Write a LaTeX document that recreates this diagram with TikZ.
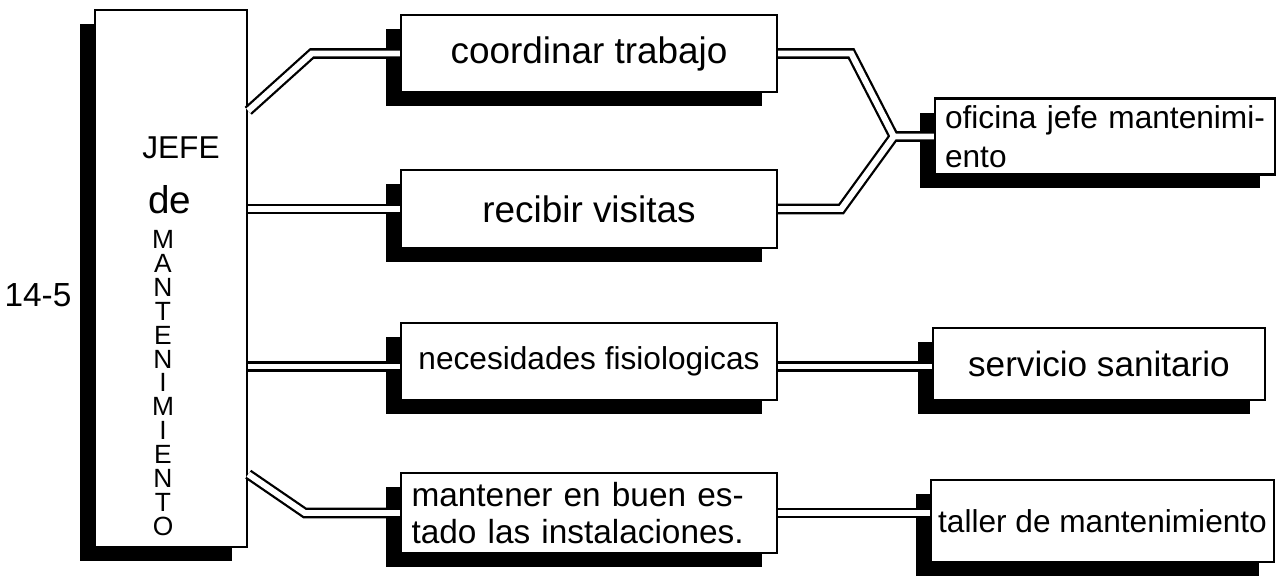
\documentclass[tikz,border=0pt]{standalone}
\usepackage{fontspec}
\setmainfont{Liberation Sans}
\usetikzlibrary{shadows}

\begin{document}
\begin{tikzpicture}[x=0.02cm, y=-0.02cm,
    caja/.style={draw, rectangle, fill=white, line width=1.4pt, inner sep=4pt,
      drop shadow={shadow xshift=-0.3cm, shadow yshift=-0.28cm, fill=black, opacity=1}},
    doble/.style={double, line width=1.3pt, double distance=3.4pt},
    letra/.style={font=\fontsize{18}{22}\selectfont}]
    \useasboundingbox (0,0) rectangle (1278,576);

    % Jefe
    \node[caja, minimum width=3.04cm, minimum height=10.74cm] (jefe) at (171,278.5) {};
    \node[font=\fontsize{18}{22}\selectfont] (jefe-titulo) at (181,148) {JEFE};
    \node[font=\fontsize{22}{26}\selectfont] (jefe-de) at (170,200) {de};
    \node[font=\fontsize{15}{13.6}\selectfont, align=center] (jefe-mant) at (163,383) {M\\A\\N\\T\\E\\N\\I\\M\\I\\E\\N\\T\\O};
    \node[font=\fontsize{19}{22}\selectfont] (pagina) at (38,295) {14-5};

    % Funciones
    \node[caja, font=\fontsize{21}{24}\selectfont, minimum width=7.52cm, minimum height=1.54cm] (coordinar) at (589,53.5) {coordinar trabajo};
    \node[caja, font=\fontsize{21}{24}\selectfont, minimum width=7.52cm, minimum height=1.56cm] (recibir) at (589,209) {recibir visitas};
    \node[caja, letra, minimum width=7.52cm, minimum height=1.54cm] (necesidades) at (589,361.5) {necesidades fisiologicas};
    \node[caja, font=\fontsize{19}{21}\selectfont, minimum width=7.52cm, minimum height=1.6cm, align=left, text width=7.1cm] (mantener) at (589,513) {mantener en buen es-\\tado las instalaciones.};

    % Espacios
    \node[caja, letra, minimum width=6.8cm, minimum height=1.46cm, align=left, text width=6.4cm] (oficina) at (1105,136.5) {oficina jefe mantenimi-\\ento};
    \node[caja, font=\fontsize{20}{24}\selectfont, minimum width=6.64cm, minimum height=1.44cm] (servicio) at (1099,364) {servicio sanitario};
    \node[caja, letra, minimum width=6.78cm, minimum height=1.64cm] (taller) at (1102.5,521) {taller de mantenimiento};

    % Conexiones
    \draw[doble] ([yshift=-2.04cm]jefe.north east) -- ([xshift=-1.76cm]coordinar.west) -- (coordinar.west);
    \draw[doble] (jefe.east |- recibir.west) -- (recibir.west);
    \draw[doble] ([yshift=-0.1cm]jefe.east |- necesidades.west) -- ([yshift=-0.1cm]necesidades.west);
    \draw[doble] ([yshift=1.48cm]jefe.south east) -- ([xshift=-1.9cm]mantener.west) -- (mantener.west);
    \coordinate (union) at ([xshift=-0.8cm]oficina.west);
    \draw[doble] (coordinar.east) -- ++(73,0) -- (union) -- (oficina.west)
        (recibir.east) -- ++(63,0) -- (union);
    \draw[doble] ([yshift=-0.1cm]necesidades.east) -- ([yshift=-0.1cm]necesidades.east -| servicio.west);
    \draw[doble] (mantener.east) -- (mantener.east -| taller.west);
\end{tikzpicture}
\end{document}
